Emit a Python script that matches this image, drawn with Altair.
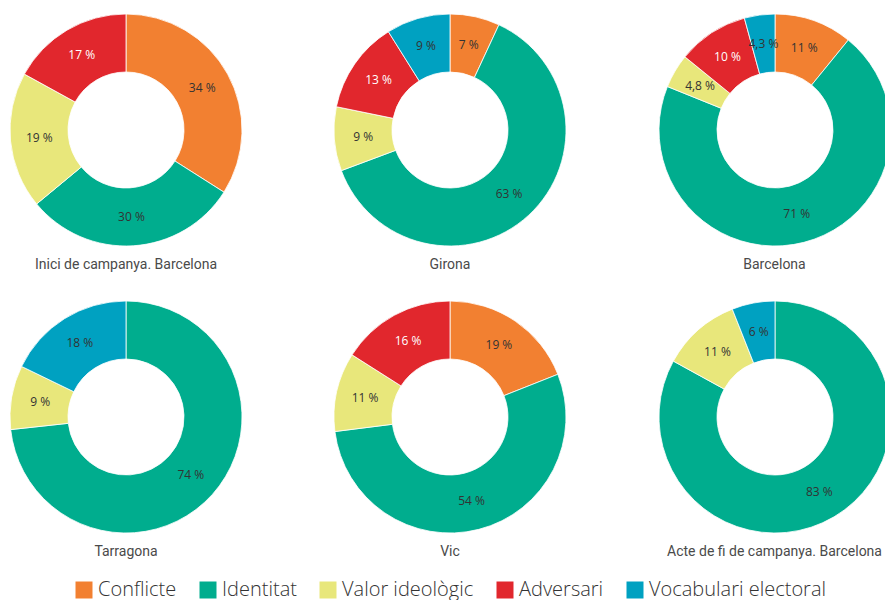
import altair as alt
import pandas as pd

categories = ["Conflicte", "Identitat", "Valor ideològic", "Adversari", "Vocabulari electoral"]
colors = ["#F28031", "#00AD8E", "#E8E77B", "#E1272D", "#00A1C1"]

panels = ["Inici de campanya. Barcelona", "Girona", "Barcelona",
          "Tarragona", "Vic", "Acte de fi de campanya. Barcelona"]
inici = [34, 30, 19, 17, 0]
girona = [7, 63, 9, 13, 9]
barcelona = [11, 71, 4.8, 10, 4.3]
tarragona = [0, 74, 9, 0, 18]
vic = [19, 54, 11, 16, 0]
acte = [0, 83, 11, 0, 6]
series = [inici, girona, barcelona, tarragona, vic, acte]

rows = []
for name, vals in zip(panels, series):
    for i, (cat, v) in enumerate(zip(categories, vals)):
        if v > 0:
            rows.append({"panel": name, "cat": cat, "order": i, "value": v,
                         "label": f"{v:g}".replace(".", ",") + " %"})
df = pd.DataFrame(rows)

R_OUT, R_IN = 116, 58


def donut(name, width=232, cx=None, title_dx=0):
    sub = df[df.panel == name]
    base = alt.Chart(sub).encode(
        theta=alt.Theta("value:Q", stack=True),
        order=alt.Order("order:Q"),
    )
    extra = {}
    if cx is not None:
        extra = {"x": alt.value(cx), "y": alt.value(R_OUT)}
    arc = base.mark_arc(innerRadius=R_IN, outerRadius=R_OUT, stroke="white",
                        strokeWidth=0.8, clip=True).encode(
        color=alt.Color("cat:N", scale=alt.Scale(domain=categories, range=colors),
                        sort=categories, title=None),
        **extra,
    )
    text = base.mark_text(radius=(R_IN + R_OUT) / 2, font="Open Sans", fontSize=12,
                          clip=True).encode(
        text="label:N",
        color=alt.condition(alt.datum.cat == "Adversari", alt.value("white"),
                            alt.value("#333333")),
        **extra,
    )
    return alt.layer(arc, text).properties(
        width=width, height=2 * R_OUT,
        title=alt.TitleParams(name, orient="bottom", fontSize=14, font="Roboto",
                              fontWeight="normal", color="#4a4a4a", offset=12,
                              dx=title_dx),
    )


row1 = alt.hconcat(donut(panels[0]), donut(panels[1]),
                   donut(panels[2], width=227, cx=117, title_dx=3), spacing=92)
row2 = alt.hconcat(donut(panels[3]), donut(panels[4]),
                   donut(panels[5], width=227, cx=117, title_dx=3), spacing=92)

chart = alt.vconcat(row1, row2, spacing=29).resolve_scale(color="shared").resolve_legend(
    color="shared"
).properties(
    padding={"left": 10, "top": 14, "right": 0, "bottom": 0}
).configure_view(stroke=None).configure_legend(
    orient="none", legendX=64, legendY=566, direction="horizontal",
    symbolType="square", symbolSize=289, symbolStrokeWidth=0,
    labelFont="Open Sans", labelFontSize=20, labelFontWeight=300,
    labelColor="#333333", columnPadding=21, labelOffset=4, labelLimit=400,
)

chart.save("out.html", embed_options={"renderer": "svg", "actions": False})
